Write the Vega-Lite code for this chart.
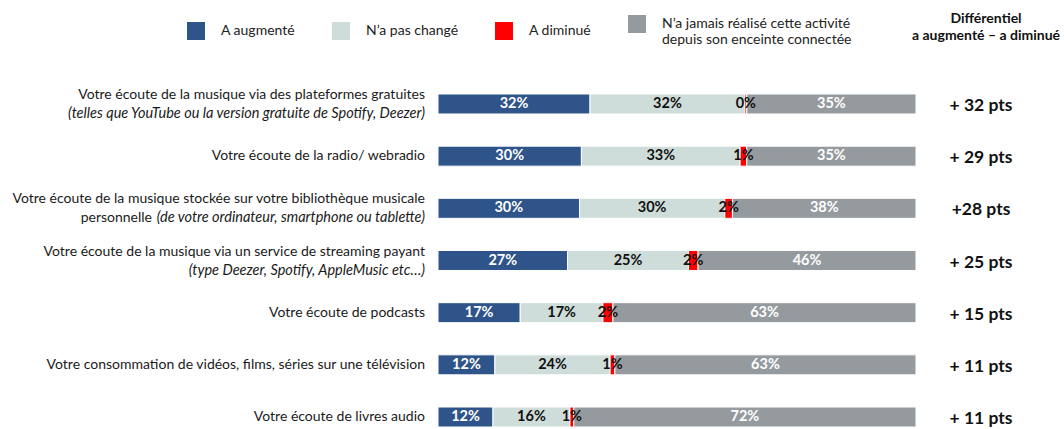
{
  "$schema": "https://vega.github.io/schema/vega-lite/v6.json",
  "width": 478,
  "height": 333,
  "autosize": {"type": "none"},
  "padding": {"left": 438, "top": 94, "right": 148, "bottom": 2},
  "background": "white",
  "config": {"view": {"stroke": null}, "font": "Lato"},
  "title": {
    "text": ["Différentiel", "a augmenté – a diminué"],
    "anchor": "end",
    "align": "center",
    "frame": "group",
    "dx": 70,
    "offset": -28,
    "fontSize": 14,
    "fontWeight": "bold",
    "font": "Lato",
    "color": "#111111",
    "lineHeight": 17
  },
  "datasets": {
    "bars": [
      {"cat": "c1", "s": "A augmenté", "o": 1, "v": 31.8},
      {"cat": "c1", "s": "N’a pas changé", "o": 2, "v": 32.4},
      {"cat": "c1", "s": "A diminué", "o": 3, "v": 0.4},
      {"cat": "c1", "s": "N’a jamais réalisé cette activité depuis son enceinte connectée", "o": 4, "v": 35.4},
      {"cat": "c2", "s": "A augmenté", "o": 1, "v": 30.0},
      {"cat": "c2", "s": "N’a pas changé", "o": 2, "v": 33.2},
      {"cat": "c2", "s": "A diminué", "o": 3, "v": 1.4},
      {"cat": "c2", "s": "N’a jamais réalisé cette activité depuis son enceinte connectée", "o": 4, "v": 35.4},
      {"cat": "c3", "s": "A augmenté", "o": 1, "v": 29.6},
      {"cat": "c3", "s": "N’a pas changé", "o": 2, "v": 30.4},
      {"cat": "c3", "s": "A diminué", "o": 3, "v": 1.6},
      {"cat": "c3", "s": "N’a jamais réalisé cette activité depuis son enceinte connectée", "o": 4, "v": 38.4},
      {"cat": "c4", "s": "A augmenté", "o": 1, "v": 27.1},
      {"cat": "c4", "s": "N’a pas changé", "o": 2, "v": 25.3},
      {"cat": "c4", "s": "A diminué", "o": 3, "v": 2.0},
      {"cat": "c4", "s": "N’a jamais réalisé cette activité depuis son enceinte connectée", "o": 4, "v": 45.6},
      {"cat": "c5", "s": "A augmenté", "o": 1, "v": 17.2},
      {"cat": "c5", "s": "N’a pas changé", "o": 2, "v": 17.3},
      {"cat": "c5", "s": "A diminué", "o": 3, "v": 2.1},
      {"cat": "c5", "s": "N’a jamais réalisé cette activité depuis son enceinte connectée", "o": 4, "v": 63.4},
      {"cat": "c6", "s": "A augmenté", "o": 1, "v": 11.9},
      {"cat": "c6", "s": "N’a pas changé", "o": 2, "v": 24.1},
      {"cat": "c6", "s": "A diminué", "o": 3, "v": 1.0},
      {"cat": "c6", "s": "N’a jamais réalisé cette activité depuis son enceinte connectée", "o": 4, "v": 63.0},
      {"cat": "c7", "s": "A augmenté", "o": 1, "v": 11.5},
      {"cat": "c7", "s": "N’a pas changé", "o": 2, "v": 16.1},
      {"cat": "c7", "s": "A diminué", "o": 3, "v": 0.8},
      {"cat": "c7", "s": "N’a jamais réalisé cette activité depuis son enceinte connectée", "o": 4, "v": 71.6}
    ],
    "labels": [
      {"cat": "c1", "l1": "Votre écoute de la musique via des plateformes gratuites", "it": "(telles que YouTube ou la version gratuite de Spotify, Deezer)", "pre": ""},
      {"cat": "c2", "l1": "Votre écoute de la radio/ webradio", "it": "", "pre": ""},
      {"cat": "c3", "l1": "Votre écoute de la musique stockée sur votre bibliothèque musicale", "it": "(de votre ordinateur, smartphone ou tablette)", "pre": "personnelle"},
      {"cat": "c4", "l1": "Votre écoute de la musique via un service de streaming payant", "it": "(type Deezer, Spotify,  AppleMusic etc…)", "pre": ""},
      {"cat": "c5", "l1": "Votre écoute de podcasts", "it": "", "pre": ""},
      {"cat": "c6", "l1": "Votre consommation de vidéos, films, séries sur une télévision", "it": "", "pre": ""},
      {"cat": "c7", "l1": "Votre écoute de livres audio", "it": "", "pre": ""}
    ],
    "diffs": [
      {"cat": "c1", "d": "+ 32 pts"},
      {"cat": "c2", "d": "+ 29 pts"},
      {"cat": "c3", "d": "+28 pts"},
      {"cat": "c4", "d": "+ 25 pts"},
      {"cat": "c5", "d": "+ 15 pts"},
      {"cat": "c6", "d": "+ 11 pts"},
      {"cat": "c7", "d": "+ 11 pts"}
    ]
  },
  "layer": [
    {
      "data": {"name": "bars"},
      "transform": [
        {"stack": "v", "groupby": ["cat"], "sort": [{"field": "o"}], "as": ["x0", "x1"]}
      ],
      "mark": {"type": "bar", "stroke": "white", "strokeWidth": 1},
      "encoding": {
        "y": {"field": "cat", "type": "nominal", "axis": null,
              "scale": {"domain": ["c1", "c2", "c3", "c4", "c5", "c6", "c7"], "paddingInner": 0.617, "paddingOuter": 0}},
        "x": {"field": "x0", "type": "quantitative", "axis": null, "scale": {"domain": [0, 100], "nice": false, "zero": false}},
        "x2": {"field": "x1"},
        "color": {
          "field": "s", "type": "nominal",
          "scale": {
            "domain": ["A augmenté", "N’a pas changé", "A diminué", "N’a jamais réalisé cette activité depuis son enceinte connectée"],
            "range": ["#2E5489", "#CFDDDA", "#FF0000", "#959A9E"]
          },
          "legend": {
            "orient": "none",
            "legendX": -251,
            "legendY": -79,
            "direction": "horizontal",
            "title": null,
            "symbolType": "square",
            "symbolSize": 324,
            "symbolStrokeWidth": 0,
            "labelFont": "Lato",
            "labelFontSize": 14,
            "labelColor": "#222222",
            "labelOffset": 16,
            "columnPadding": 36,
            "padding": 0,
            "labelLimit": 300,
            "labelExpr": "datum.label == 'N’a jamais réalisé cette activité depuis son enceinte connectée' ? ['N’a jamais réalisé cette activité', 'depuis son enceinte connectée'] : datum.label"
          }
        }
      }
    },
    {
      "data": {"name": "bars"},
      "transform": [
        {"stack": "v", "groupby": ["cat"], "sort": [{"field": "o"}], "as": ["x0", "x1"]},
        {"calculate": "(datum.x0 + datum.x1) / 2", "as": "mid"},
        {"calculate": "format(datum.v, '.0f') + '%'", "as": "lbl"}
      ],
      "mark": {"type": "text", "font": "Lato", "fontWeight": "bold", "fontSize": 14.5, "baseline": "middle", "align": "center"},
      "encoding": {
        "y": {"field": "cat", "type": "nominal"},
        "x": {"field": "mid", "type": "quantitative"},
        "text": {"field": "lbl"},
        "color": {"condition": {"test": "datum.o == 1 || datum.o == 4", "value": "white"}, "value": "#111111"}
      }
    },
    {
      "data": {"name": "labels"},
      "transform": [{"filter": "datum.it == ''"}],
      "mark": {"type": "text", "font": "Lato", "fontSize": 14, "align": "right", "baseline": "middle", "dx": -13, "color": "#1a1a1a"},
      "encoding": {
        "y": {"field": "cat", "type": "nominal"},
        "x": {"datum": 0},
        "text": {"field": "l1"}
      }
    },
    {
      "data": {"name": "labels"},
      "transform": [{"filter": "datum.it != ''"}],
      "mark": {"type": "text", "font": "Lato", "fontSize": 14, "align": "right", "baseline": "middle", "dx": -13, "dy": -9, "color": "#1a1a1a"},
      "encoding": {
        "y": {"field": "cat", "type": "nominal"},
        "x": {"datum": 0},
        "text": {"field": "l1"}
      }
    },
    {
      "data": {"name": "labels"},
      "transform": [{"filter": "datum.it != ''"}],
      "mark": {"type": "text", "font": "Lato", "fontSize": 14.5, "fontStyle": "italic", "align": "right", "baseline": "middle", "dx": -13, "dy": 10, "color": "#1a1a1a"},
      "encoding": {
        "y": {"field": "cat", "type": "nominal"},
        "x": {"datum": 0},
        "text": {"field": "it"}
      }
    },
    {
      "data": {"name": "labels"},
      "transform": [{"filter": "datum.pre != ''"}],
      "mark": {"type": "text", "font": "Lato", "fontSize": 14, "align": "right", "baseline": "middle", "dx": -286, "dy": 10, "color": "#1a1a1a"},
      "encoding": {
        "y": {"field": "cat", "type": "nominal"},
        "x": {"datum": 0},
        "text": {"field": "pre"}
      }
    },
    {
      "data": {"name": "diffs"},
      "mark": {"type": "text", "font": "Lato", "fontWeight": "bold", "fontSize": 17.5, "align": "center", "baseline": "middle", "dy": 2, "color": "#111111"},
      "encoding": {
        "y": {"field": "cat", "type": "nominal"},
        "x": {"datum": 113.6},
        "text": {"field": "d"}
      }
    }
  ]
}
